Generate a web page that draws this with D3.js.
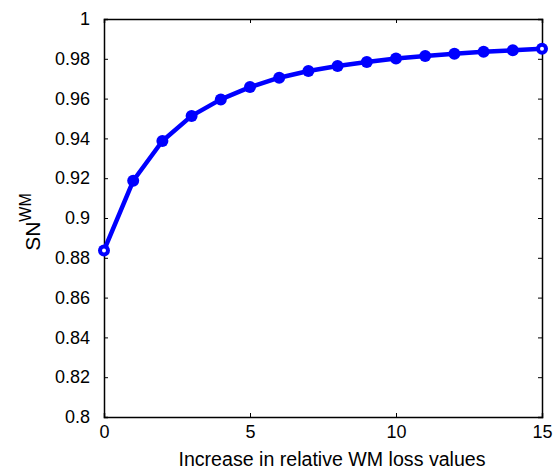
<!DOCTYPE html>
<html>
  <meta charset="utf-8">
  <head>
    <style>
      body { margin: 0; background: #fff; font-family: "Liberation Sans", Arial, sans-serif; }
      .axis text { font-size: 18px; fill: #000; font-family: "Liberation Sans", Arial, sans-serif; }
      .axis path, .axis line { stroke: #000; }
    </style>
    <script src="https://cdn.jsdelivr.net/npm/d3@7"></script>
  </head>
  <body>
    <script>
      var xVals = [0, 1, 2, 3, 4, 5, 6, 7, 8, 9, 10, 11, 12, 13, 14, 15];
      var snVals = [0.8837, 0.9187, 0.9387, 0.9513, 0.9596, 0.9658, 0.9705, 0.9739,
                    0.9764, 0.9784, 0.9801, 0.9814, 0.9825, 0.9835, 0.9843, 0.9850];
      var xTicks = [0, 5, 10, 15];
      var yTicks = [0.8, 0.82, 0.84, 0.86, 0.88, 0.9, 0.92, 0.94, 0.96, 0.98, 1];

      var W = 556, H = 470;
      var margin = {top: 19, right: 14, bottom: 53, left: 104};
      var w = W - margin.left - margin.right,
          h = H - margin.top - margin.bottom;

      var svg = d3.select("body").append("svg")
                  .attr("width", W).attr("height", H);
      var g = svg.append("g")
                 .attr("transform", "translate(" + margin.left + "," + margin.top + ")");

      var x = d3.scaleLinear().domain([0, 15]).range([0, w]);
      var y = d3.scaleLinear().domain([0.8, 1]).range([h, 0]);

      var fmt = function(d) { return d3.format("")(+d.toFixed(2)); };

      // bottom + left with labels, top + right mirror ticks
      g.append("g").attr("class", "axis").attr("transform", "translate(0," + h + ")")
       .call(d3.axisBottom(x).tickValues(xTicks).tickSize(-4).tickPadding(8).tickFormat(fmt));
      g.append("g").attr("class", "axis")
       .call(d3.axisLeft(y).tickValues(yTicks).tickSize(-4).tickPadding(14).tickFormat(fmt));
      g.append("g").attr("class", "axis")
       .call(d3.axisTop(x).tickValues(xTicks).tickSize(-4).tickFormat(""));
      g.append("g").attr("class", "axis").attr("transform", "translate(" + w + ",0)")
       .call(d3.axisRight(y).tickValues(yTicks).tickSize(-4).tickFormat(""));
      g.selectAll(".axis path").attr("stroke-width", 1.5);

      var pts = xVals.map(function(d, i) { return [d, snVals[i]]; });

      g.append("path").datum(pts)
       .attr("fill", "none").attr("stroke", "#0000ff").attr("stroke-width", 4.5)
       .attr("stroke-linejoin", "round")
       .attr("d", d3.line().x(function(d) { return x(d[0]); }).y(function(d) { return y(d[1]); }));

      g.selectAll("circle.m").data(pts).enter().append("circle")
       .attr("class", "m")
       .attr("cx", function(d) { return x(d[0]); })
       .attr("cy", function(d) { return y(d[1]); })
       .attr("r", 6).attr("fill", "#0000ff");

      // end markers look open in the original
      g.selectAll("circle.e").data([pts[0], pts[pts.length - 1]]).enter().append("circle")
       .attr("class", "e")
       .attr("cx", function(d) { return x(d[0]); })
       .attr("cy", function(d) { return y(d[1]); })
       .attr("r", 2).attr("fill", "#fff");

      svg.append("text")
         .attr("x", 332).attr("y", 466)
         .attr("text-anchor", "middle").attr("font-size", "19.6px")
         .text("Increase in relative WM loss values");

      var yl = svg.append("text")
         .attr("transform", "translate(40," + 222 + ") rotate(-90)")
         .attr("text-anchor", "middle").attr("font-size", "21px");
      yl.append("tspan").text("SN");
      yl.append("tspan").attr("dy", -9).attr("font-size", "16px").text("WM");
    </script>
  </body>
</html>
